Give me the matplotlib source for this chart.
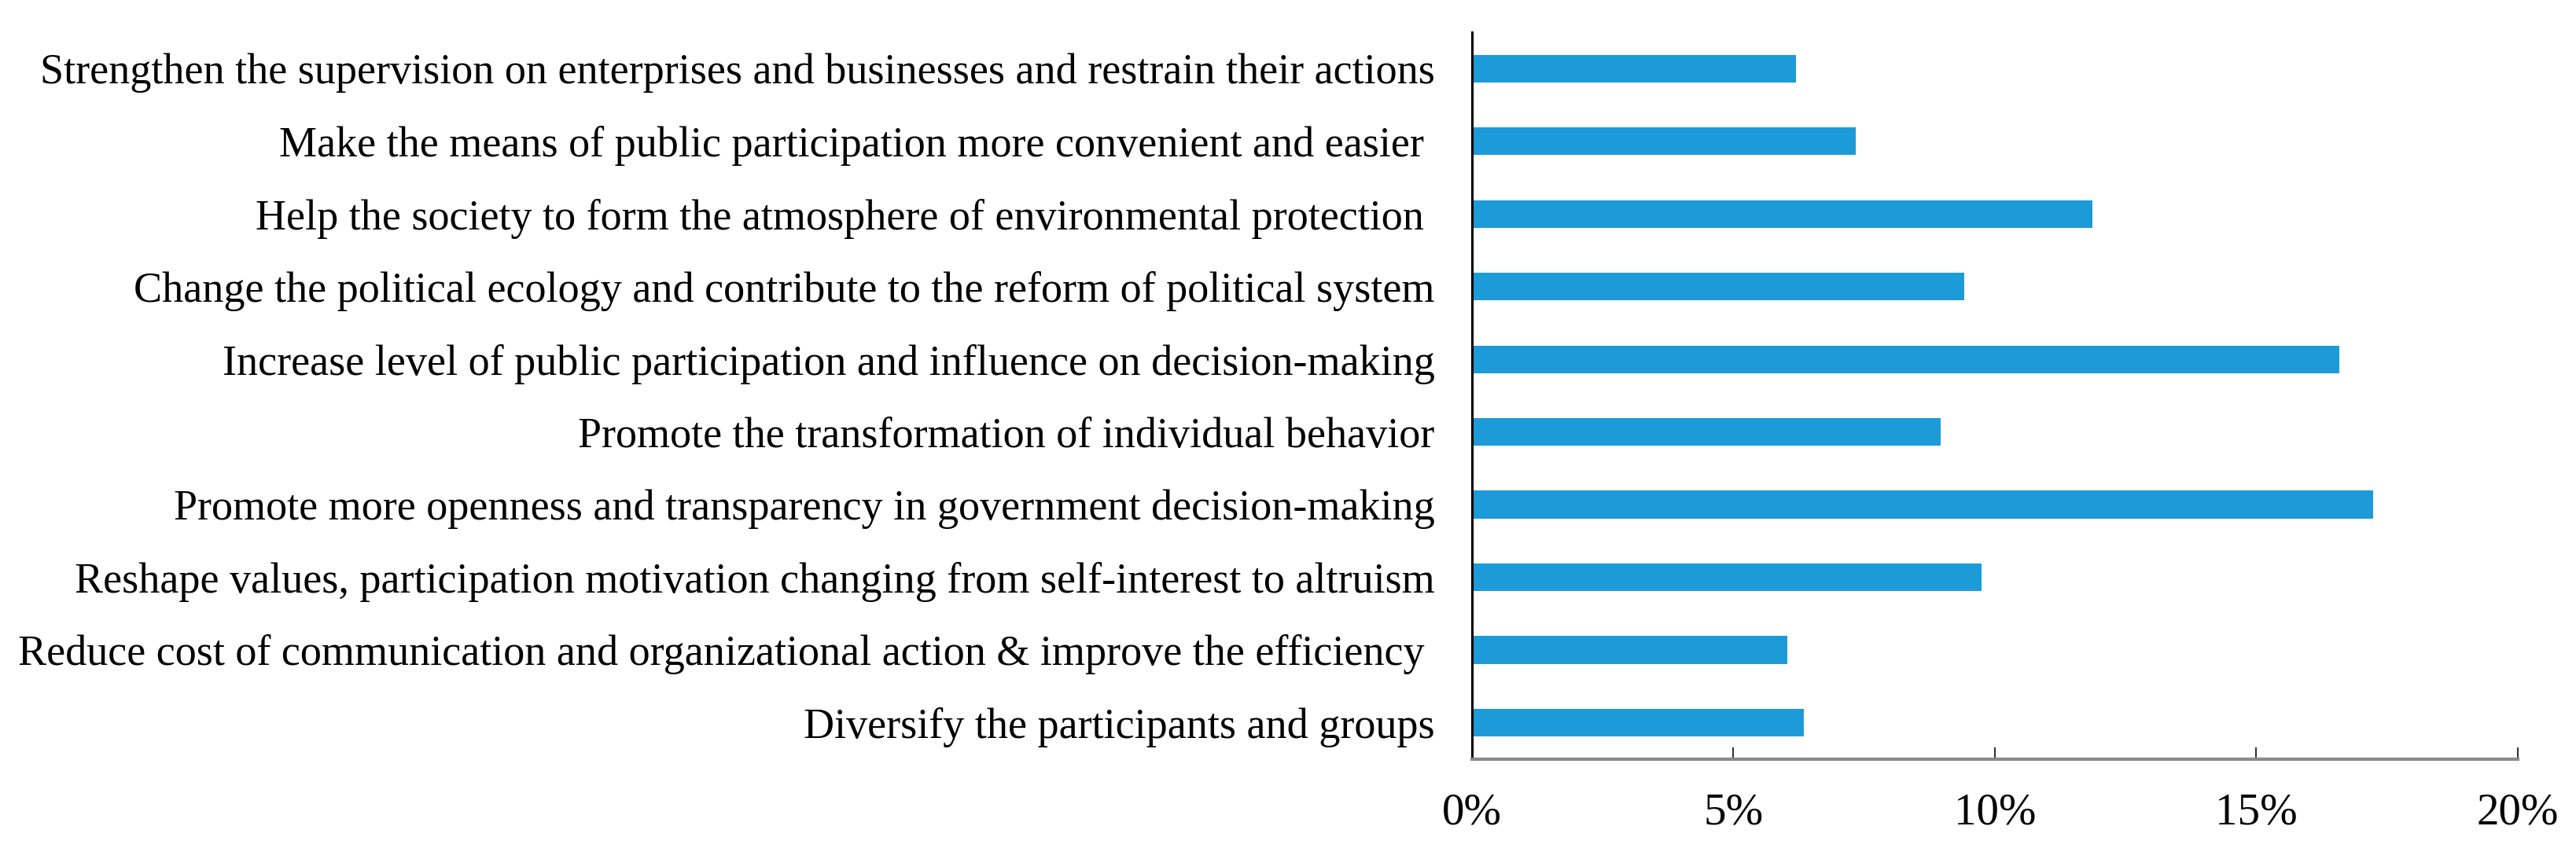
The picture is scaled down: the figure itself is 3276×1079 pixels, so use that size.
import matplotlib
matplotlib.use("Agg")
import matplotlib.pyplot as plt
from matplotlib.ticker import FuncFormatter

categories = [
    "Diversify the participants and groups",
    "Reduce cost of communication and organizational action & improve the efficiency ",
    "Reshape values, participation motivation changing from self-interest to altruism",
    "Promote more openness and transparency in government decision-making",
    "Promote the transformation of individual behavior",
    "Increase level of public participation and influence on decision-making",
    "Change the political ecology and contribute to the reform of political system",
    "Help the society to form the atmosphere of environmental protection ",
    "Make the means of public participation more convenient and easier ",
    "Strengthen the supervision on enterprises and businesses and restrain their actions",
]
values = [6.34, 6.03, 9.75, 17.24, 8.97, 16.58, 9.42, 11.87, 7.34, 6.19]
xticks = [0, 5, 10, 15, 20]

plt.rcParams['font.family'] = ['Liberation Serif', 'DejaVu Serif']

fig = plt.figure(figsize=(32.76, 10.79), dpi=100)
ax = fig.add_axes([0.5714, 0.105, 0.406, 0.857])

ax.barh(range(len(categories)), values, height=0.38, color='#1C9BD8')
ax.set_xlim(0, 20)
ax.set_ylim(-0.5, 9.5)
ax.set_yticks(range(len(categories)))
ax.set_yticklabels(categories, fontsize=39)
ax.set_xticks(xticks)
ax.xaxis.set_major_formatter(FuncFormatter(lambda v, p: f"{int(v)}%"))
ax.tick_params(axis='x', direction='in', length=11, width=1.5, color='#333333',
               labelsize=41, pad=31)
ax.tick_params(axis='y', length=0, pad=34)

for s in ['top', 'right']:
    ax.spines[s].set_visible(False)
ax.spines['left'].set_color('black')
ax.spines['left'].set_linewidth(2.2)
ax.spines['bottom'].set_color('#8a8a8a')
ax.spines['bottom'].set_linewidth(3)

fig.savefig("out.png", dpi=100, facecolor='white')
